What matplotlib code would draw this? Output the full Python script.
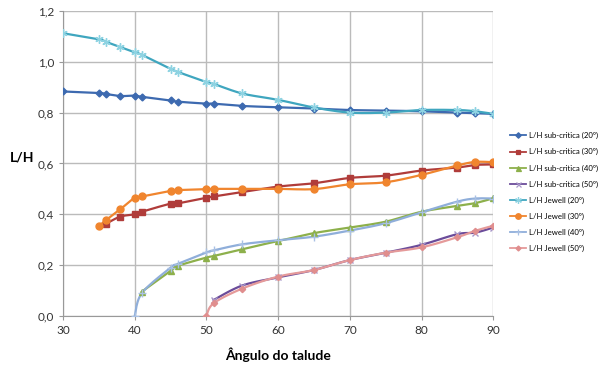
import matplotlib
matplotlib.use("Agg")
import matplotlib.pyplot as plt
import numpy as np

plt.rcParams['font.family'] = ['Lato', 'DejaVu Sans']

# angle of slope (x) and L/H values
x_all = [30, 35, 36, 38, 40, 41, 45, 46, 50, 51, 55, 60, 65, 70, 75, 80, 85, 87.5, 90]

sub20 = [0.883, 0.877, 0.873, 0.865, 0.867, 0.862, 0.848, 0.843, 0.835, 0.835,
         0.826, 0.821, 0.816, 0.810, 0.808, 0.805, 0.800, 0.797, 0.795]
jew20 = [1.112, 1.088, 1.078, 1.057, 1.037, 1.027, 0.972, 0.960, 0.920, 0.913,
         0.875, 0.850, 0.820, 0.800, 0.800, 0.810, 0.810, 0.805, 0.795]

x_sub30 = [36, 38, 40, 41, 45, 46, 50, 51, 55, 60, 65, 70, 75, 80, 85, 87.5, 90]
sub30 = [0.363, 0.391, 0.400, 0.410, 0.442, 0.443, 0.465, 0.470, 0.487, 0.509,
         0.522, 0.543, 0.552, 0.572, 0.584, 0.594, 0.596]
x_jew30 = [35, 36, 38, 40, 41, 45, 46, 50, 51, 55, 60, 65, 70, 75, 80, 85, 87.5, 90]
jew30 = [0.354, 0.377, 0.420, 0.465, 0.470, 0.492, 0.495, 0.499, 0.500, 0.500,
         0.500, 0.499, 0.518, 0.526, 0.555, 0.592, 0.606, 0.605]

x_sub40 = [41, 45, 46, 50, 51, 55, 60, 65, 70, 75, 80, 85, 87.5, 90]
sub40 = [0.096, 0.177, 0.197, 0.230, 0.236, 0.263, 0.295, 0.326, 0.348, 0.371,
         0.410, 0.433, 0.444, 0.463]
x_jew40 = [40, 41, 45, 46, 50, 51, 55, 60, 65, 70, 75, 80, 85, 87.5, 90]
jew40 = [0.0, 0.090, 0.190, 0.205, 0.250, 0.258, 0.282, 0.298, 0.312, 0.336,
         0.365, 0.408, 0.450, 0.462, 0.462]

x_sub50 = [51, 55, 60, 65, 70, 75, 80, 85, 87.5, 90]
sub50 = [0.063, 0.120, 0.152, 0.181, 0.220, 0.249, 0.280, 0.322, 0.328, 0.348]
x_jew50 = [50, 51, 55, 60, 65, 70, 75, 80, 85, 87.5, 90]
jew50 = [0.0, 0.050, 0.108, 0.155, 0.181, 0.220, 0.249, 0.270, 0.310, 0.335, 0.355]


def smooth(xs, ys, n=12):
    # excel-like smoothed line: bezier segments with catmull-rom control points
    sx, sy = 7.17, 254.0
    p = np.column_stack([np.array(xs) * sx, np.array(ys) * sy])
    out = [p[0]]
    t = np.linspace(0, 1, n + 1)[1:, None]
    for i in range(len(p) - 1):
        p0 = p[i - 1] if i > 0 else p[i]
        p3 = p[i + 2] if i + 2 < len(p) else p[i + 1]
        c1 = p[i] + (p[i + 1] - p0) / 6
        c2 = p[i + 1] - (p3 - p[i]) / 6
        seg = ((1 - t) ** 3 * p[i] + 3 * (1 - t) ** 2 * t * c1
               + 3 * (1 - t) * t ** 2 * c2 + t ** 3 * p[i + 1])
        out.extend(seg)
    out = np.array(out)
    return out[:, 0] / sx, out[:, 1] / sy


star = (6, 2, 0)
# data, label, line colour, marker, marker colour, marker size
series = [
    (x_all, sub20, 'L/H sub-critica (20º)', '#3D6AB0', 'D', '#3D6AB0', 3.5),
    (x_sub30, sub30, 'L/H sub-critica (30º)', '#B03C3A', 's', '#B03C3A', 3.8),
    (x_sub40, sub40, 'L/H sub-critica (40º)', '#8DB04B', '^', '#8DB04B', 4.5),
    (x_sub50, sub50, 'L/H sub-critica (50º)', '#6B4C9A', 'x', '#A796C8', 4.5),
    (x_all, jew20, 'L/H Jewell (20º)', '#3FA6BF', star, '#8ED3E2', 6),
    (x_jew30, jew30, 'L/H Jewell (30º)', '#F0852E', 'o', '#F0852E', 5),
    (x_jew40, jew40, 'L/H Jewell (40º)', '#8FAEDA', '+', '#A9C1E4', 6),
    (x_jew50, jew50, 'L/H Jewell (50º)', '#E59A9A', 'D', '#E08E8E', 3.2),
]

fig = plt.figure(figsize=(6.0, 3.74), dpi=100)
ax = fig.add_axes([0.105, 0.155, 0.717, 0.816])

for xs, ys, name, col, mk, mcol, ms in series:
    lx, ly = smooth(xs, ys)
    ax.plot(lx, ly, color=col, lw=1.6, zorder=3)
    ax.plot(xs, ys, linestyle='none', marker=mk, color=mcol, ms=ms,
            mew=1.0, zorder=4)
    ax.plot([], [], color=col, lw=1.3, marker=mk, mfc=mcol, mec=mcol,
            ms=ms * 0.8, mew=0.9, label=name)

ax.set_xlim(30, 90)
ax.set_ylim(0, 1.2)
ax.set_xticks([30, 40, 50, 60, 70, 80, 90])
ax.set_yticks([0, 0.2, 0.4, 0.6, 0.8, 1.0, 1.2])
ax.set_yticklabels(['0,0', '0,2', '0,4', '0,6', '0,8', '1,0', '1,2'])
ax.grid(True, color='#BBBBBB', lw=1.0)
ax.set_axisbelow(True)
for s in ['top', 'right']:
    ax.spines[s].set_visible(False)
for s in ['left', 'bottom']:
    ax.spines[s].set_color('#999999')
ax.tick_params(colors='#999999', labelcolor='#333333', labelsize=8.5, length=3)

ax.set_xlabel('Ângulo do talude', fontsize=10, fontweight='bold', labelpad=8)
ax.set_ylabel('L/H', fontsize=10, fontweight='bold', rotation=0, labelpad=14)
ax.yaxis.set_label_coords(-0.095, 0.5)

fig.legend(loc='upper left', bbox_to_anchor=(0.845, 0.655), frameon=False,
           fontsize=5.6, handlelength=2.0, handletextpad=0.4,
           labelspacing=1.15, borderaxespad=0)

fig.savefig('out.png', dpi=100)
